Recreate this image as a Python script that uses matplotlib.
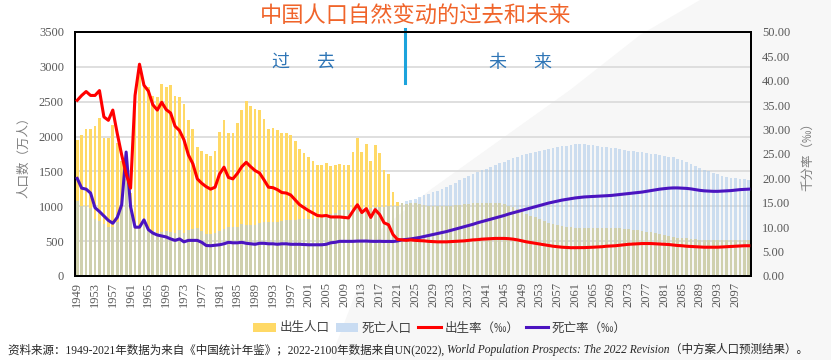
import matplotlib
matplotlib.use("Agg")
import matplotlib.pyplot as plt
from matplotlib.patches import Polygon, Patch
from matplotlib.lines import Line2D
import numpy as np

# ---- data -------------------------------------------------------------
years = list(range(1949, 2101))

# births (10k persons), 1949-2021 statistics + 2022-2100 projection
births_past = [1950, 2023, 2107, 2105, 2151, 2260, 1984, 1978, 2169, 1906,
               1647, 1389, 1187, 2451, 2934, 2721, 2704, 2577, 2563, 2757,
               2715, 2736, 2578, 2566, 2463, 2235, 2109, 1853, 1786, 1745,
               1727, 1787, 2069, 2237, 2052, 2050, 2196, 2374, 2508, 2445,
               2396, 2374, 2250, 2113, 2120, 2098, 2052, 2057, 2028, 1934,
               1827, 1771, 1702, 1647, 1599, 1593, 1617, 1585, 1594, 1608,
               1591, 1592, 1785, 1973, 1776, 1897, 1655, 1883, 1765, 1523,
               1465, 1202, 1062]
births_future = [1040, 1030, 1045, 1040, 1030, 1020, 1010, 1005, 1000, 1000,
                 1005, 1010, 1020, 1025, 1030, 1035, 1040, 1045, 1050, 1050,
                 1050, 1048, 1040, 1030, 1010, 985, 955, 925, 895, 865,
                 840, 815, 790, 765, 745, 730, 718, 708, 700, 695,
                 692, 690, 690, 690, 692, 694, 695, 693, 690, 685,
                 678, 670, 662, 655, 645, 636, 625, 612, 600, 588,
                 575, 562, 552, 545, 538, 532, 527, 523, 520, 518,
                 516, 515, 515, 515, 516, 517, 518, 518, 518]

deaths_past = [1080, 1000, 1000, 970, 820, 790, 750, 710, 700, 780,
               970, 1690, 950, 670, 680, 800, 680, 640, 620, 630,
               640, 630, 610, 660, 620, 660, 670, 690, 650, 600,
               600, 620, 640, 670, 710, 710, 710, 740, 730, 730,
               730, 760, 770, 770, 780, 770, 790, 800, 800, 810,
               820, 820, 820, 820, 830, 830, 850, 890, 910, 940,
               940, 950, 960, 970, 970, 980, 980, 990, 990, 990,
               1000, 1000, 1010]
deaths_future = [1050, 1070, 1090, 1110, 1130, 1155, 1180, 1200, 1225, 1250,
                 1280, 1310, 1340, 1370, 1400, 1430, 1460, 1490, 1515, 1540,
                 1565, 1590, 1615, 1640, 1665, 1690, 1710, 1730, 1750, 1765,
                 1780, 1795, 1810, 1825, 1840, 1850, 1860, 1870, 1880, 1890,
                 1890, 1888, 1885, 1875, 1865, 1855, 1848, 1840, 1830, 1820,
                 1810, 1800, 1790, 1785, 1775, 1765, 1755, 1745, 1735, 1725,
                 1712, 1700, 1680, 1660, 1640, 1610, 1580, 1550, 1525, 1500,
                 1480, 1460, 1440, 1425, 1410, 1400, 1390, 1385, 1377]

# rates (per mille)
brate_past = [36.0, 37.0, 37.8, 37.0, 37.0, 38.0, 32.6, 31.9, 34.0, 29.2,
              24.8, 20.9, 18.0, 37.0, 43.4, 39.1, 37.9, 35.1, 34.0, 35.6,
              34.1, 33.4, 30.7, 29.8, 27.9, 24.8, 23.0, 19.9, 19.0, 18.3,
              17.8, 18.2, 20.9, 22.3, 20.2, 19.9, 21.0, 22.4, 23.3, 22.4,
              21.6, 21.1, 19.7, 18.2, 18.1, 17.7, 17.1, 17.0, 16.6, 15.6,
              14.6, 14.0, 13.4, 12.9, 12.4, 12.3, 12.4, 12.1, 12.1, 12.1,
              12.0, 11.9, 13.3, 14.6, 13.0, 13.8, 12.0, 13.6, 12.6, 10.9,
              10.5, 8.5, 7.5]
brate_future = [7.4, 7.3, 7.4, 7.3, 7.25, 7.2, 7.1, 7.05, 7.0, 7.0,
                7.0, 7.05, 7.1, 7.15, 7.2, 7.3, 7.4, 7.45, 7.55, 7.6,
                7.65, 7.7, 7.7, 7.7, 7.65, 7.55, 7.4, 7.2, 7.0, 6.85,
                6.7, 6.55, 6.4, 6.25, 6.1, 6.0, 5.9, 5.85, 5.8, 5.8,
                5.8, 5.82, 5.85, 5.9, 5.95, 6.0, 6.1, 6.15, 6.2, 6.3,
                6.4, 6.5, 6.55, 6.6, 6.65, 6.65, 6.65, 6.6, 6.55, 6.5,
                6.45, 6.35, 6.25, 6.2, 6.1, 6.05, 6.0, 5.95, 5.9, 5.9,
                5.9, 5.9, 5.95, 6.0, 6.05, 6.1, 6.15, 6.2, 6.2]

drate_past = [20.0, 18.0, 17.8, 17.0, 14.0, 13.2, 12.3, 11.4, 10.8, 12.0,
              14.6, 25.4, 14.2, 10.0, 10.0, 11.5, 9.5, 8.8, 8.4, 8.2,
              8.0, 7.6, 7.3, 7.6, 7.0, 7.3, 7.3, 7.3, 6.9, 6.25,
              6.2, 6.3, 6.4, 6.6, 6.9, 6.8, 6.8, 6.9, 6.7, 6.6,
              6.5, 6.7, 6.7, 6.6, 6.6, 6.5, 6.6, 6.6, 6.5, 6.5,
              6.5, 6.45, 6.4, 6.4, 6.4, 6.4, 6.5, 6.8, 6.9, 7.1,
              7.1, 7.1, 7.1, 7.15, 7.16, 7.16, 7.11, 7.09, 7.11, 7.08,
              7.09, 7.07, 7.18]
drate_future = [7.4, 7.5, 7.6, 7.75, 7.9, 8.1, 8.3, 8.5, 8.7, 8.9,
                9.1, 9.35, 9.6, 9.85, 10.1, 10.35, 10.6, 10.9, 11.15, 11.4,
                11.65, 11.9, 12.15, 12.4, 12.7, 12.95, 13.2, 13.45, 13.7, 13.95,
                14.2, 14.45, 14.7, 14.95, 15.15, 15.35, 15.55, 15.7, 15.85, 16.0,
                16.1, 16.2, 16.25, 16.3, 16.35, 16.4, 16.45, 16.5, 16.6, 16.7,
                16.8, 16.9, 17.0, 17.1, 17.2, 17.35, 17.5, 17.65, 17.8, 17.9,
                18.0, 18.05, 18.05, 18.0, 17.95, 17.85, 17.7, 17.55, 17.45, 17.4,
                17.35, 17.35, 17.4, 17.45, 17.5, 17.6, 17.7, 17.75, 17.8]

births = births_past + births_future
deaths = deaths_past + deaths_future
brate = brate_past + brate_future
drate = drate_past + drate_future

xtick_labels = [str(y) for y in range(1949, 2101, 4)]

# ---- style ------------------------------------------------------------
cjk = ["Noto Sans CJK SC", "DejaVu Sans"]
serif = ["Liberation Serif", "Noto Sans CJK SC"]
plt.rcParams["font.family"] = serif

fig = plt.figure(figsize=(8.31, 3.6), dpi=100)
fig.patch.set_facecolor("white")

# faint grey swoosh behind everything
swoosh = Polygon([(700/831, 1.0), (831/831, 1.0), (1.0, 0.0), (330/831, 0.0),
                  (380/831, 1-230/360), (430/831, 1-190/360), (500/831, 1-140/360),
                  (570/831, 1-90/360), (640/831, 1-35/360)],
                 closed=True, transform=fig.transFigure, facecolor="#f7f7f7",
                 edgecolor="none", zorder=-10)
fig.patches.append(swoosh)

ax = fig.add_axes([75/831, 1-276/360, 676/831, 244/360])
ax.set_facecolor("none")
x = np.arange(len(years))

ax.bar(x, births, width=0.62, color="#ffd966", zorder=2)
ax.bar(x, deaths, width=0.62, color="#a9c9ea", alpha=0.55, zorder=3)

ax.set_xlim(-0.5, len(years) - 0.5)
ax.set_ylim(0, 3500)
ax.set_yticks(range(0, 3501, 500))
ax.set_xticks(x[::4])
ax.set_xticklabels(xtick_labels, rotation=90)
ax.yaxis.grid(True, color="#d9d9d9", linewidth=1.2)
ax.set_axisbelow(True)
ax.tick_params(axis="both", length=0, labelsize=9, labelcolor="#595959")
ax.tick_params(axis="y", pad=8)
ax.tick_params(axis="x", pad=4)
for s in ax.spines.values():
    s.set_linewidth(1.4)
    s.set_color("black")
ax.set_ylabel("人口数（万人）", family=cjk, fontsize=9, color="#7f7f7f", labelpad=6)

ax2 = ax.twinx()
ax2.plot(x, drate, color="#4b14c0", linewidth=2.2, zorder=4)
ax2.plot(x, brate, color="#ff0000", linewidth=2.2, zorder=5)
ax2.set_ylim(0, 50)
ax2.set_yticks(range(0, 51, 5))
ax2.set_yticklabels([f"{v:.2f}" for v in range(0, 51, 5)])
ax2.tick_params(axis="y", length=0, labelsize=9, labelcolor="#595959", pad=8)
for s in ax2.spines.values():
    s.set_linewidth(1.4)
ax2.set_ylabel("千分率（‰）", family=cjk, fontsize=9, color="#7f7f7f",
               rotation=90, labelpad=8)

# past / future divider
ax.axvline(73.8, ymin=0.79, ymax=1.012, color="#1ca3dc", linewidth=2.2,
           clip_on=False, zorder=6)
for ch, px in [("过", 280), ("去", 326), ("未", 497), ("来", 542)]:
    fig.text(px/831, 1-63/360, ch, family=cjk, fontsize=13, color="#2e75b6",
             ha="center", va="center")

fig.text(0.5, 1-16/360, "中国人口自然变动的过去和未来", family=cjk, fontsize=16,
         color="#f0642a", ha="center", va="center")

# legend
handles = [Patch(facecolor="#ffd966", edgecolor="none"),
           Patch(facecolor="#c9dcf2", edgecolor="none"),
           Line2D([], [], color="#ff0000", linewidth=2.2),
           Line2D([], [], color="#4b14c0", linewidth=2.2)]
labels = ["出生人口", "死亡人口", "出生率（‰）", "死亡率（‰）"]
fig.legend(handles, labels, loc="center", bbox_to_anchor=(440/831, 1-328/360),
           ncol=4, frameon=False, prop={"family": cjk, "size": 9},
           labelcolor="#404040", handlelength=1.8, handletextpad=0.3,
           columnspacing=0.5)

# source note
r = fig.canvas.get_renderer()
pieces = [("资料来源：1949-2021年数据为来自《中国统计年鉴》；2022-2100年数据来自UN(2022), ", "normal"),
          ("World Population Prospects: The 2022 Revision", "italic"),
          ("（中方案人口预测结果）。", "normal")]
xpos = 8
for txt, style in pieces:
    t = fig.text(xpos/831, 1-353/360, txt, family=serif, style=style,
                 fontsize=8.3, color="#262626", ha="left", va="baseline")
    xpos = t.get_window_extent(r).x1

fig.savefig("out.png", dpi=100, facecolor=fig.get_facecolor())
